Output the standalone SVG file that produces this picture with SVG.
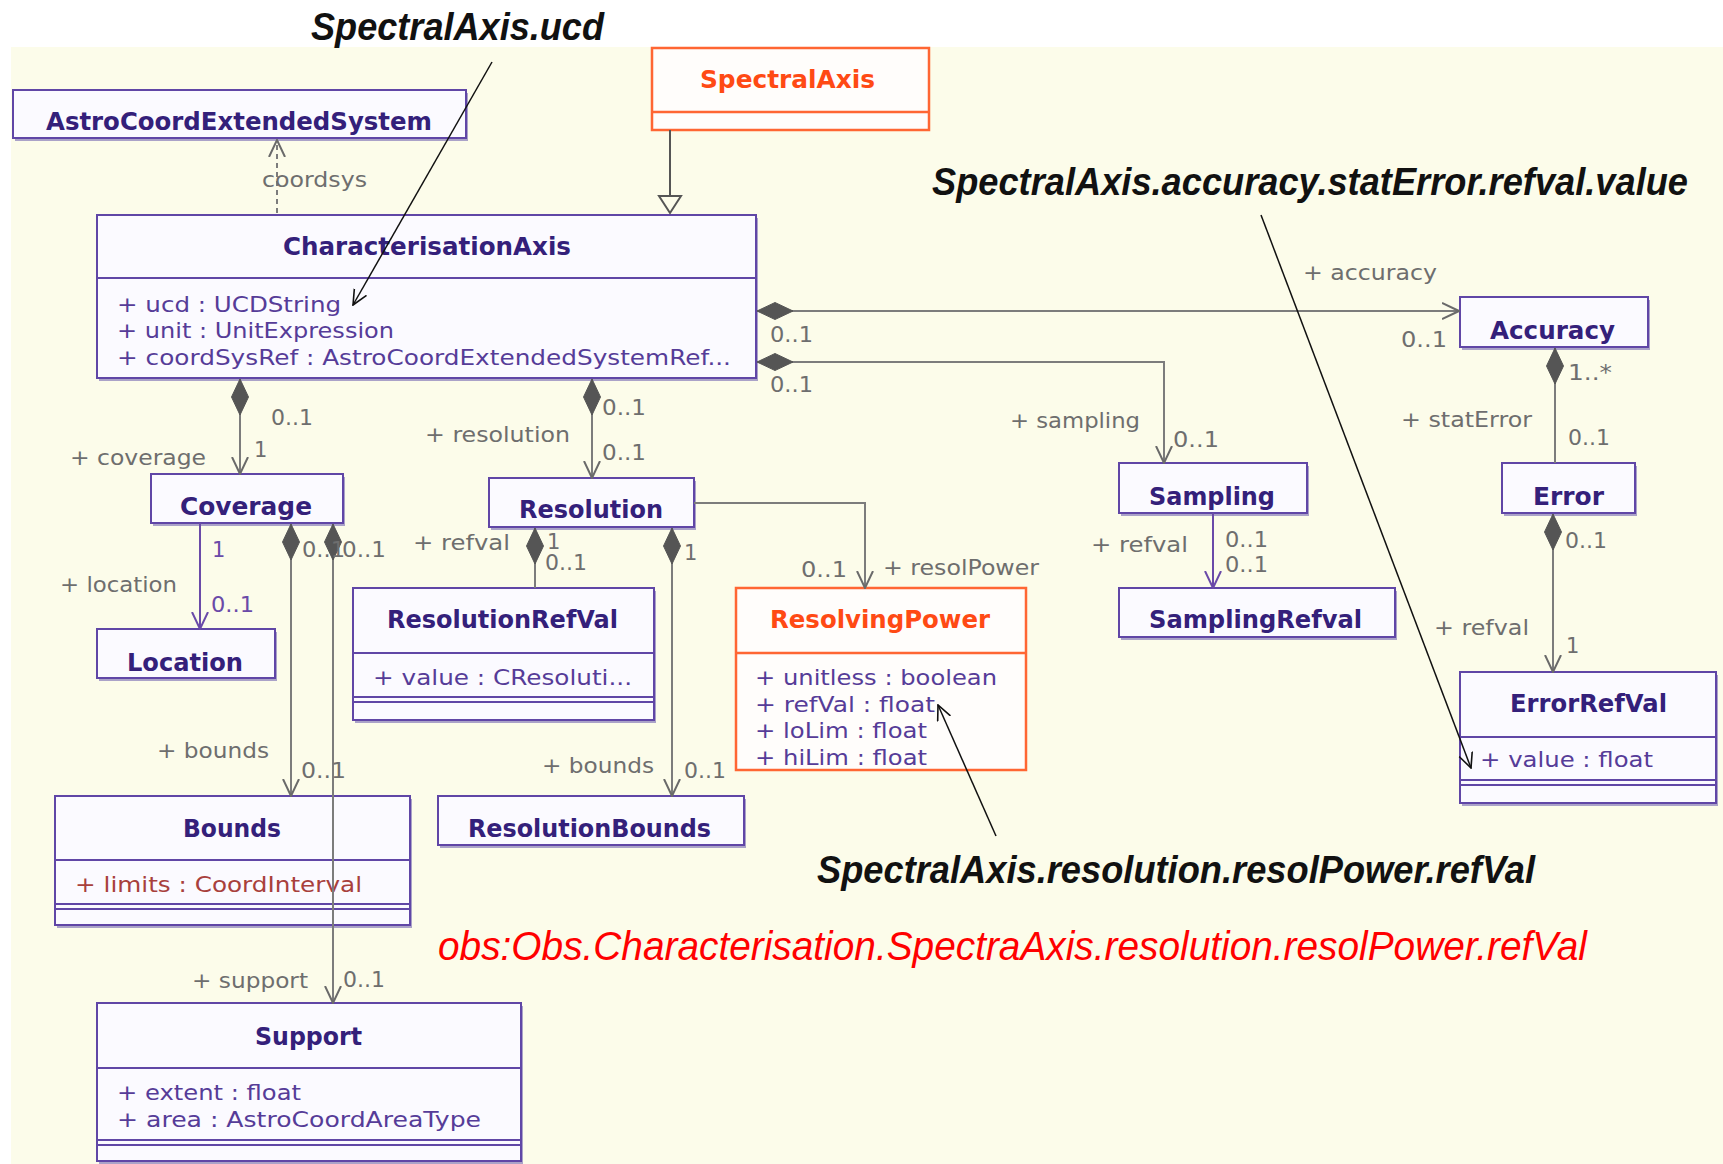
<svg xmlns="http://www.w3.org/2000/svg" width="1723" height="1164" viewBox="0 0 1723 1164">
<style>
.t{font-family:"DejaVu Sans",Verdana,sans-serif;font-weight:bold;font-size:24px;fill:#34207a}
.to{fill:#ff4a14}
.a{font-family:"DejaVu Sans",Verdana,sans-serif;font-size:22px;fill:#563c98}
.ar{fill:#a8403c}
.l{font-family:"DejaVu Sans",Verdana,sans-serif;font-size:21px;fill:#6e6e6e}
.lp{fill:#6a4aa8}
.n{font-family:"Liberation Sans",Arial,sans-serif;font-weight:bold;font-style:italic;font-size:38px;fill:#111}
.r{font-family:"Liberation Sans",Arial,sans-serif;font-style:italic;font-size:41px;fill:#ff0000}
.box{fill:#fbfaff;stroke:#6046a6;stroke-width:2}
.obox{fill:#fffdfb;stroke:#ff6633;stroke-width:2.5}
.sh{fill:#aaa2c8}
.sep{stroke:#6046a6;stroke-width:2;fill:none}
.osep{stroke:#ff6633;stroke-width:2.5;fill:none}
.c{fill:none;stroke:#7c7c7c;stroke-width:2}
.cp{fill:none;stroke:#6a4aa8;stroke-width:2}
.p{fill:none;stroke:#111;stroke-width:1.5}
</style>
<defs>
<marker id="open" markerUnits="userSpaceOnUse" viewBox="0 0 18 18" refX="17" refY="9" markerWidth="18" markerHeight="18" orient="auto"><path d="M0,1 L17,9 L0,17" fill="none" stroke="#6a6a6a" stroke-width="2"/></marker>
<marker id="openp" markerUnits="userSpaceOnUse" viewBox="0 0 18 18" refX="17" refY="9" markerWidth="18" markerHeight="18" orient="auto"><path d="M0,1 L17,9 L0,17" fill="none" stroke="#6a4aa8" stroke-width="2"/></marker>
<marker id="openk" markerUnits="userSpaceOnUse" viewBox="0 0 16 16" refX="15" refY="8" markerWidth="16" markerHeight="16" orient="auto"><path d="M0,1 L15,8 L0,15" fill="none" stroke="#111" stroke-width="1.6"/></marker>
<marker id="tri" markerUnits="userSpaceOnUse" viewBox="0 0 20 26" refX="18" refY="13" markerWidth="20" markerHeight="26" orient="auto"><path d="M1,2 L18,13 L1,24 Z" fill="#fcfcea" stroke="#555" stroke-width="2"/></marker>
<marker id="dia" markerUnits="userSpaceOnUse" viewBox="0 0 36 18" refX="0" refY="9" markerWidth="36" markerHeight="18" orient="auto"><path d="M0,9 L18,0.5 L36,9 L18,17.5 Z" fill="#555" stroke="#555" stroke-width="1"/></marker>
</defs>
<rect x="0" y="0" width="1723" height="1164" fill="#ffffff"/>
<rect x="11" y="47" width="1712" height="1117" fill="#fcfcea"/>

<g id="AstroCoordExtendedSystem">
<rect class="sh" x="15" y="93" width="453" height="48"/>
<rect class="box" x="13" y="90" width="453" height="48"/>
<text class="t" x="46" y="130" textLength="386" lengthAdjust="spacingAndGlyphs">AstroCoordExtendedSystem</text>
</g>
<g id="SpectralAxis">
<rect class="obox" x="652" y="48" width="277" height="82"/>
<line class="osep" x1="652" y1="112" x2="929" y2="112"/>
<text class="t to" x="700" y="88" textLength="175" lengthAdjust="spacingAndGlyphs">SpectralAxis</text>
</g>
<g id="CharacterisationAxis">
<rect class="sh" x="99" y="218" width="659" height="163"/>
<rect class="box" x="97" y="215" width="659" height="163"/>
<line class="sep" x1="97" y1="278" x2="756" y2="278"/>
<text class="t" x="283" y="255" textLength="288" lengthAdjust="spacingAndGlyphs">CharacterisationAxis</text>
<text class="a" x="117" y="312" textLength="224" lengthAdjust="spacingAndGlyphs">+ ucd : UCDString</text>
<text class="a" x="117" y="338" textLength="277" lengthAdjust="spacingAndGlyphs">+ unit : UnitExpression</text>
<text class="a" x="117" y="365" textLength="614" lengthAdjust="spacingAndGlyphs">+ coordSysRef : AstroCoordExtendedSystemRef...</text>
</g>
<g id="Accuracy">
<rect class="sh" x="1462" y="300" width="188" height="50"/>
<rect class="box" x="1460" y="297" width="188" height="50"/>
<text class="t" x="1490" y="339" textLength="125" lengthAdjust="spacingAndGlyphs">Accuracy</text>
</g>
<g id="Coverage">
<rect class="sh" x="153" y="477" width="192" height="49"/>
<rect class="box" x="151" y="474" width="192" height="49"/>
<text class="t" x="180" y="515" textLength="132" lengthAdjust="spacingAndGlyphs">Coverage</text>
</g>
<g id="Resolution">
<rect class="sh" x="491" y="481" width="205" height="49"/>
<rect class="box" x="489" y="478" width="205" height="49"/>
<text class="t" x="519" y="518" textLength="144" lengthAdjust="spacingAndGlyphs">Resolution</text>
</g>
<g id="Location">
<rect class="sh" x="99" y="632" width="178" height="49"/>
<rect class="box" x="97" y="629" width="178" height="49"/>
<text class="t" x="127" y="671" textLength="116" lengthAdjust="spacingAndGlyphs">Location</text>
</g>
<g id="ResolutionRefVal">
<rect class="sh" x="355" y="591" width="301" height="132"/>
<rect class="box" x="353" y="588" width="301" height="132"/>
<line class="sep" x1="353" y1="653" x2="654" y2="653"/>
<line class="sep" x1="353" y1="697" x2="654" y2="697"/>
<line class="sep" x1="353" y1="702" x2="654" y2="702"/>
<text class="t" x="387" y="628" textLength="231" lengthAdjust="spacingAndGlyphs">ResolutionRefVal</text>
<text class="a" x="373" y="685" textLength="259" lengthAdjust="spacingAndGlyphs">+ value : CResoluti...</text>
</g>
<g id="ResolvingPower">
<rect class="obox" x="736" y="588" width="290" height="182"/>
<line class="osep" x1="736" y1="653" x2="1026" y2="653"/>
<text class="t to" x="770" y="628" textLength="220" lengthAdjust="spacingAndGlyphs">ResolvingPower</text>
<text class="a" x="755" y="685" textLength="242" lengthAdjust="spacingAndGlyphs">+ unitless : boolean</text>
<text class="a" x="755" y="712" textLength="180" lengthAdjust="spacingAndGlyphs">+ refVal : float</text>
<text class="a" x="755" y="738" textLength="172" lengthAdjust="spacingAndGlyphs">+ loLim : float</text>
<text class="a" x="755" y="765" textLength="172" lengthAdjust="spacingAndGlyphs">+ hiLim : float</text>
</g>
<g id="Sampling">
<rect class="sh" x="1121" y="466" width="188" height="50"/>
<rect class="box" x="1119" y="463" width="188" height="50"/>
<text class="t" x="1149" y="505" textLength="126" lengthAdjust="spacingAndGlyphs">Sampling</text>
</g>
<g id="SamplingRefval">
<rect class="sh" x="1121" y="591" width="276" height="49"/>
<rect class="box" x="1119" y="588" width="276" height="49"/>
<text class="t" x="1149" y="628" textLength="213" lengthAdjust="spacingAndGlyphs">SamplingRefval</text>
</g>
<g id="Error">
<rect class="sh" x="1504" y="466" width="133" height="50"/>
<rect class="box" x="1502" y="463" width="133" height="50"/>
<text class="t" x="1533" y="505" textLength="71" lengthAdjust="spacingAndGlyphs">Error</text>
</g>
<g id="ErrorRefVal">
<rect class="sh" x="1462" y="675" width="256" height="131"/>
<rect class="box" x="1460" y="672" width="256" height="131"/>
<line class="sep" x1="1460" y1="737" x2="1716" y2="737"/>
<line class="sep" x1="1460" y1="780" x2="1716" y2="780"/>
<line class="sep" x1="1460" y1="785" x2="1716" y2="785"/>
<text class="t" x="1510" y="712" textLength="157" lengthAdjust="spacingAndGlyphs">ErrorRefVal</text>
<text class="a" x="1480" y="767" textLength="173" lengthAdjust="spacingAndGlyphs">+ value : float</text>
</g>
<g id="Bounds">
<rect class="sh" x="57" y="799" width="355" height="129"/>
<rect class="box" x="55" y="796" width="355" height="129"/>
<line class="sep" x1="55" y1="860" x2="410" y2="860"/>
<line class="sep" x1="55" y1="904" x2="410" y2="904"/>
<line class="sep" x1="55" y1="909" x2="410" y2="909"/>
<text class="t" x="183" y="837" textLength="98" lengthAdjust="spacingAndGlyphs">Bounds</text>
<text class="a ar" x="75" y="892" textLength="287" lengthAdjust="spacingAndGlyphs">+ limits : CoordInterval</text>
</g>
<g id="ResolutionBounds">
<rect class="sh" x="440" y="799" width="306" height="49"/>
<rect class="box" x="438" y="796" width="306" height="49"/>
<text class="t" x="468" y="837" textLength="243" lengthAdjust="spacingAndGlyphs">ResolutionBounds</text>
</g>
<g id="Support">
<rect class="sh" x="99" y="1006" width="424" height="158"/>
<rect class="box" x="97" y="1003" width="424" height="158"/>
<line class="sep" x1="97" y1="1068" x2="521" y2="1068"/>
<line class="sep" x1="97" y1="1140" x2="521" y2="1140"/>
<line class="sep" x1="97" y1="1145" x2="521" y2="1145"/>
<text class="t" x="255" y="1045" textLength="107" lengthAdjust="spacingAndGlyphs">Support</text>
<text class="a" x="117" y="1100" textLength="184" lengthAdjust="spacingAndGlyphs">+ extent : float</text>
<text class="a" x="117" y="1127" textLength="364" lengthAdjust="spacingAndGlyphs">+ area : AstroCoordAreaType</text>
</g>

<g id="connectors">
<path class="c" d="M277,213 L277,140" stroke-dasharray="5,4" marker-end="url(#open)"/>
<path class="c" d="M670,130 L670,213" style="stroke:#555" marker-end="url(#tri)"/>
<path class="c" d="M757,311 L1459,311" marker-start="url(#dia)" marker-end="url(#open)"/>
<path class="c" d="M757,362 L1164,362 L1164,463" marker-start="url(#dia)" marker-end="url(#open)"/>
<path class="c" d="M240,379 L240,474" marker-start="url(#dia)" marker-end="url(#open)"/>
<path class="c" d="M592,379 L592,478" marker-start="url(#dia)" marker-end="url(#open)"/>
<path class="c" d="M694,503 L865,503 L865,588" marker-end="url(#open)"/>
<path class="cp" d="M200,523 L200,629" marker-end="url(#openp)"/>
<path class="c" d="M291,524 L291,796" marker-start="url(#dia)" marker-end="url(#open)"/>
<path class="c" d="M333,524 L333,1003" marker-start="url(#dia)" marker-end="url(#open)"/>
<path class="c" d="M535,528 L535,588" marker-start="url(#dia)"/>
<path class="c" d="M672,528 L672,796" marker-start="url(#dia)" marker-end="url(#open)"/>
<path class="cp" d="M1213,513 L1213,588" marker-end="url(#openp)"/>
<path class="c" d="M1555,348 L1555,463" marker-start="url(#dia)"/>
<path class="c" d="M1553,514 L1553,672" marker-start="url(#dia)" marker-end="url(#open)"/>
<path class="p" d="M492,62 L353,305" marker-end="url(#openk)"/>
<path class="p" d="M1261,215 L1471,768" marker-end="url(#openk)"/>
<path class="p" d="M996,836 L938,705" marker-end="url(#openk)"/>
</g>

<g id="labels">
<text class="l" x="262" y="187" textLength="105" lengthAdjust="spacingAndGlyphs">coordsys</text>
<text class="l" x="1303" y="280" textLength="134" lengthAdjust="spacingAndGlyphs">+ accuracy</text>
<text class="l" x="770" y="342" textLength="43" lengthAdjust="spacingAndGlyphs">0..1</text>
<text class="l" x="1401" y="347" textLength="46" lengthAdjust="spacingAndGlyphs">0..1</text>
<text class="l" x="770" y="392" textLength="43" lengthAdjust="spacingAndGlyphs">0..1</text>
<text class="l" x="1568" y="380" textLength="44" lengthAdjust="spacingAndGlyphs">1..*</text>
<text class="l" x="1401" y="427" textLength="131" lengthAdjust="spacingAndGlyphs">+ statError</text>
<text class="l" x="1568" y="445" textLength="42" lengthAdjust="spacingAndGlyphs">0..1</text>
<text class="l" x="1010" y="428" textLength="130" lengthAdjust="spacingAndGlyphs">+ sampling</text>
<text class="l" x="1173" y="447" textLength="46" lengthAdjust="spacingAndGlyphs">0..1</text>
<text class="l" x="271" y="425" textLength="42" lengthAdjust="spacingAndGlyphs">0..1</text>
<text class="l" x="254" y="457">1</text>
<text class="l" x="70" y="465" textLength="136" lengthAdjust="spacingAndGlyphs">+ coverage</text>
<text class="l" x="602" y="415" textLength="44" lengthAdjust="spacingAndGlyphs">0..1</text>
<text class="l" x="425" y="442" textLength="145" lengthAdjust="spacingAndGlyphs">+ resolution</text>
<text class="l" x="602" y="460" textLength="44" lengthAdjust="spacingAndGlyphs">0..1</text>
<text class="l lp" x="212" y="557">1</text>
<text class="l" x="60" y="592" textLength="117" lengthAdjust="spacingAndGlyphs">+ location</text>
<text class="l lp" x="211" y="612" textLength="43" lengthAdjust="spacingAndGlyphs">0..1</text>
<text class="l" x="302" y="557" textLength="43" lengthAdjust="spacingAndGlyphs">0..1</text>
<text class="l" x="342" y="557" textLength="44" lengthAdjust="spacingAndGlyphs">0..1</text>
<text class="l" x="413" y="550" textLength="97" lengthAdjust="spacingAndGlyphs">+ refval</text>
<text class="l" x="547" y="549">1</text>
<text class="l" x="545" y="570" textLength="42" lengthAdjust="spacingAndGlyphs">0..1</text>
<text class="l" x="684" y="560">1</text>
<text class="l" x="157" y="758" textLength="112" lengthAdjust="spacingAndGlyphs">+ bounds</text>
<text class="l" x="301" y="778" textLength="45" lengthAdjust="spacingAndGlyphs">0..1</text>
<text class="l" x="542" y="773" textLength="112" lengthAdjust="spacingAndGlyphs">+ bounds</text>
<text class="l" x="684" y="778" textLength="42" lengthAdjust="spacingAndGlyphs">0..1</text>
<text class="l" x="801" y="577" textLength="46" lengthAdjust="spacingAndGlyphs">0..1</text>
<text class="l" x="883" y="575" textLength="156" lengthAdjust="spacingAndGlyphs">+ resolPower</text>
<text class="l" x="1091" y="552" textLength="97" lengthAdjust="spacingAndGlyphs">+ refval</text>
<text class="l" x="1225" y="547" textLength="43" lengthAdjust="spacingAndGlyphs">0..1</text>
<text class="l" x="1225" y="572" textLength="43" lengthAdjust="spacingAndGlyphs">0..1</text>
<text class="l" x="1565" y="548" textLength="42" lengthAdjust="spacingAndGlyphs">0..1</text>
<text class="l" x="1434" y="635" textLength="95" lengthAdjust="spacingAndGlyphs">+ refval</text>
<text class="l" x="1566" y="653">1</text>
<text class="l" x="192" y="988" textLength="116" lengthAdjust="spacingAndGlyphs">+ support</text>
<text class="l" x="343" y="987" textLength="42" lengthAdjust="spacingAndGlyphs">0..1</text>
</g>

<g id="annotations">
<text class="n" x="311" y="40" textLength="293" lengthAdjust="spacingAndGlyphs">SpectralAxis.ucd</text>
<text class="n" x="932" y="195" textLength="756" lengthAdjust="spacingAndGlyphs">SpectralAxis.accuracy.statError.refval.value</text>
<text class="n" x="817" y="883" textLength="718" lengthAdjust="spacingAndGlyphs">SpectralAxis.resolution.resolPower.refVal</text>
<text class="r" x="438" y="960" textLength="1149" lengthAdjust="spacingAndGlyphs">obs:Obs.Characterisation.SpectraAxis.resolution.resolPower.refVal</text>
</g>
</svg>
